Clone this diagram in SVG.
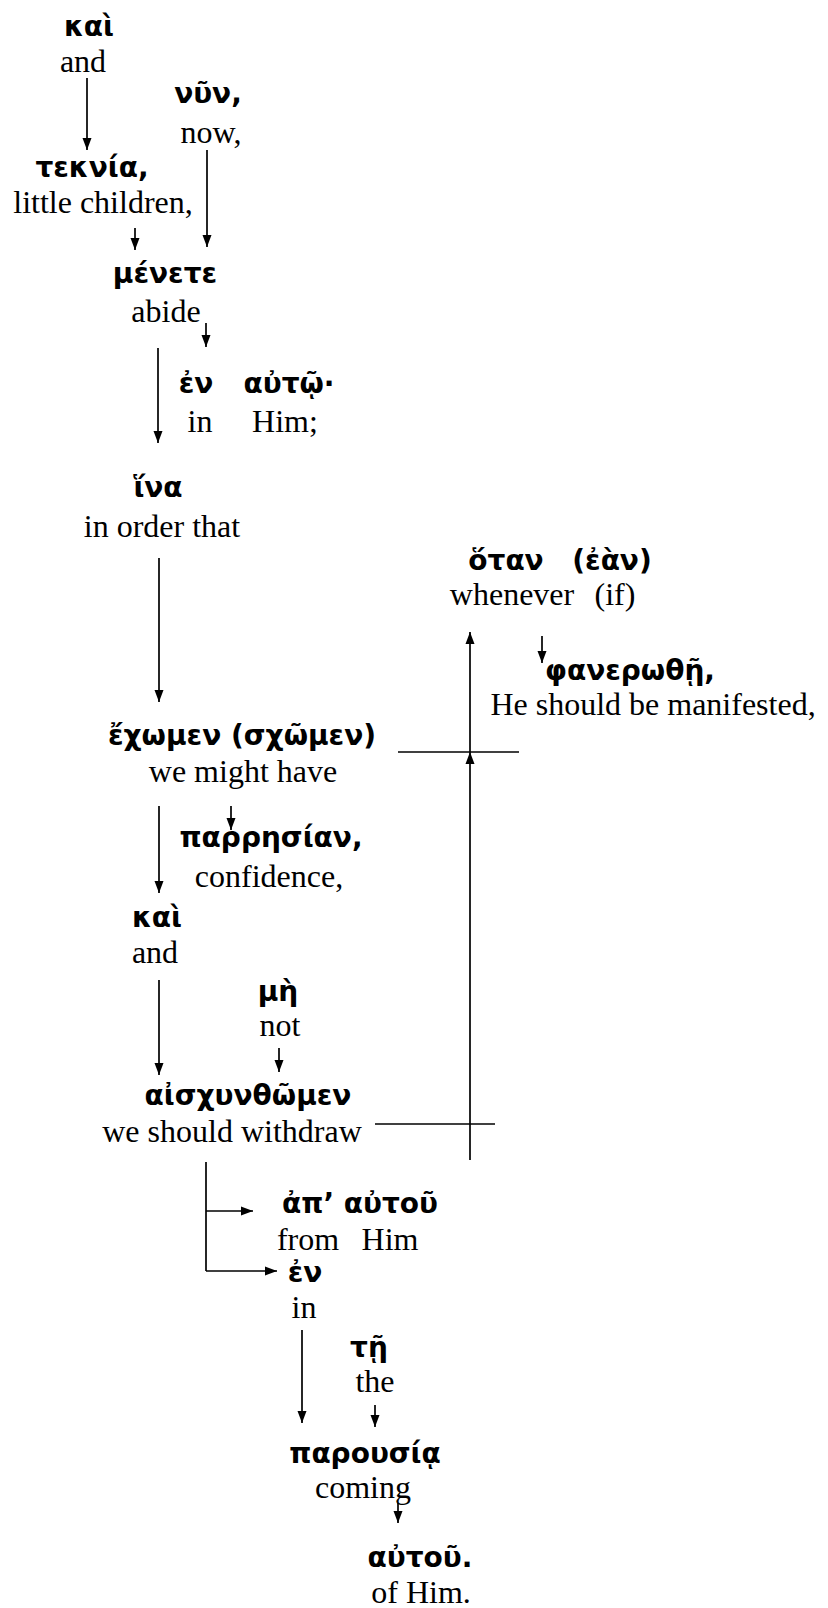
<svg xmlns="http://www.w3.org/2000/svg" width="828" height="1608" viewBox="0 0 828 1608">
<defs>
<marker id="ah" markerUnits="userSpaceOnUse" markerWidth="12" markerHeight="10" refX="12" refY="5" orient="auto">
<path d="M0,0.5 L12,5 L0,9.5 z" fill="#000"/>
</marker>
<style>
.gk{font-family:"DejaVu Sans","Noto Sans",sans-serif;font-weight:bold;font-size:28px;fill:#000;text-anchor:middle}
.en{font-family:"Liberation Serif","Times New Roman",serif;font-size:32px;fill:#000;text-anchor:middle}
.ln{stroke:#000;stroke-width:1.7;fill:none}
.ar{stroke:#000;stroke-width:1.7;fill:none;marker-end:url(#ah)}
</style>
</defs>
<rect width="828" height="1608" fill="#fff"/>
<g id="connectors">
<line class="ar" x1="87" y1="78" x2="87" y2="150"/>
<line class="ar" x1="207" y1="150" x2="207" y2="247"/>
<line class="ar" x1="135" y1="228" x2="135" y2="250"/>
<line class="ar" x1="206" y1="323" x2="206" y2="347"/>
<line class="ar" x1="158" y1="348" x2="158" y2="443"/>
<line class="ar" x1="159" y1="558" x2="159" y2="702"/>
<line class="ar" x1="542" y1="636" x2="542" y2="663"/>
<line class="ar" x1="470" y1="752" x2="470" y2="632"/>
<line class="ar" x1="470" y1="1160" x2="470" y2="752"/>
<line class="ln" x1="398" y1="752" x2="519" y2="752"/>
<line class="ln" x1="375" y1="1124" x2="495" y2="1124"/>
<line class="ar" x1="159" y1="806" x2="159" y2="893"/>
<line class="ar" x1="231" y1="806" x2="231" y2="830"/>
<line class="ar" x1="159" y1="980" x2="159" y2="1075"/>
<line class="ar" x1="279" y1="1048" x2="279" y2="1072"/>
<line class="ln" x1="206" y1="1162" x2="206" y2="1271"/>
<line class="ar" x1="206" y1="1211" x2="253" y2="1211"/>
<line class="ar" x1="206" y1="1271" x2="277" y2="1271"/>
<line class="ar" x1="302" y1="1330" x2="302" y2="1423"/>
<line class="ar" x1="375" y1="1405" x2="375" y2="1427"/>
<line class="ar" x1="398" y1="1503" x2="398" y2="1523"/>
</g>
<g id="n-kai1"><text class="gk" x="89" y="36">καὶ</text><text class="en" x="83" y="72">and</text></g>
<g id="n-nyn"><text class="gk" x="208" y="103">νῦν,</text><text class="en" x="211" y="143">now,</text></g>
<g id="n-teknia"><text class="gk" x="92" y="177">τεκνία,</text><text class="en" x="103" y="213">little children,</text></g>
<g id="n-menete"><text class="gk" x="165" y="283">μένετε</text><text class="en" x="166" y="322">abide</text></g>
<g id="n-en1"><text class="gk" x="196" y="393">ἐν</text><text class="en" x="200" y="432">in</text></g>
<g id="n-auto1"><text class="gk" x="289" y="393">αὐτῷ·</text><text class="en" x="285" y="432">Him;</text></g>
<g id="n-hina"><text class="gk" x="158" y="497">ἵνα</text><text class="en" x="162" y="537">in order that</text></g>
<g id="n-hotan"><text class="gk"><tspan x="506" y="570">ὅταν</tspan><tspan x="612" y="570">(ἐὰν)</tspan></text><text class="en"><tspan x="512" y="605">whenever</tspan><tspan x="615" y="605">(if)</tspan></text></g>
<g id="n-phanero"><text class="gk" x="630" y="680">φανερωθῇ,</text><text class="en" x="653" y="715">He should be manifested,</text></g>
<g id="n-echomen"><text class="gk" x="242" y="745">ἔχωμεν (σχῶμεν)</text><text class="en" x="243" y="782">we might have</text></g>
<g id="n-parresia"><text class="gk" x="271" y="847">παρρησίαν,</text><text class="en" x="269" y="887">confidence,</text></g>
<g id="n-kai2"><text class="gk" x="157" y="927">καὶ</text><text class="en" x="155" y="963">and</text></g>
<g id="n-me"><text class="gk" x="278" y="1001">μὴ</text><text class="en" x="280" y="1036">not</text></g>
<g id="n-aischyn"><text class="gk" x="248" y="1105">αἰσχυνθῶμεν</text><text class="en" x="232" y="1142">we should withdraw</text></g>
<g id="n-ap"><text class="gk" x="360" y="1213">ἀπ’ αὐτοῦ</text><text class="en"><tspan x="308" y="1250">from</tspan><tspan x="390" y="1250">Him</tspan></text></g>
<g id="n-en2"><text class="gk" x="305" y="1282">ἐν</text><text class="en" x="304" y="1318">in</text></g>
<g id="n-te"><text class="gk" x="369" y="1357">τῇ</text><text class="en" x="375" y="1392">the</text></g>
<g id="n-parousia"><text class="gk" x="365" y="1463">παρουσίᾳ</text><text class="en" x="363" y="1498">coming</text></g>
<g id="n-autou"><text class="gk" x="420" y="1567">αὐτοῦ.</text><text class="en" x="421" y="1603">of Him.</text></g>
</svg>
